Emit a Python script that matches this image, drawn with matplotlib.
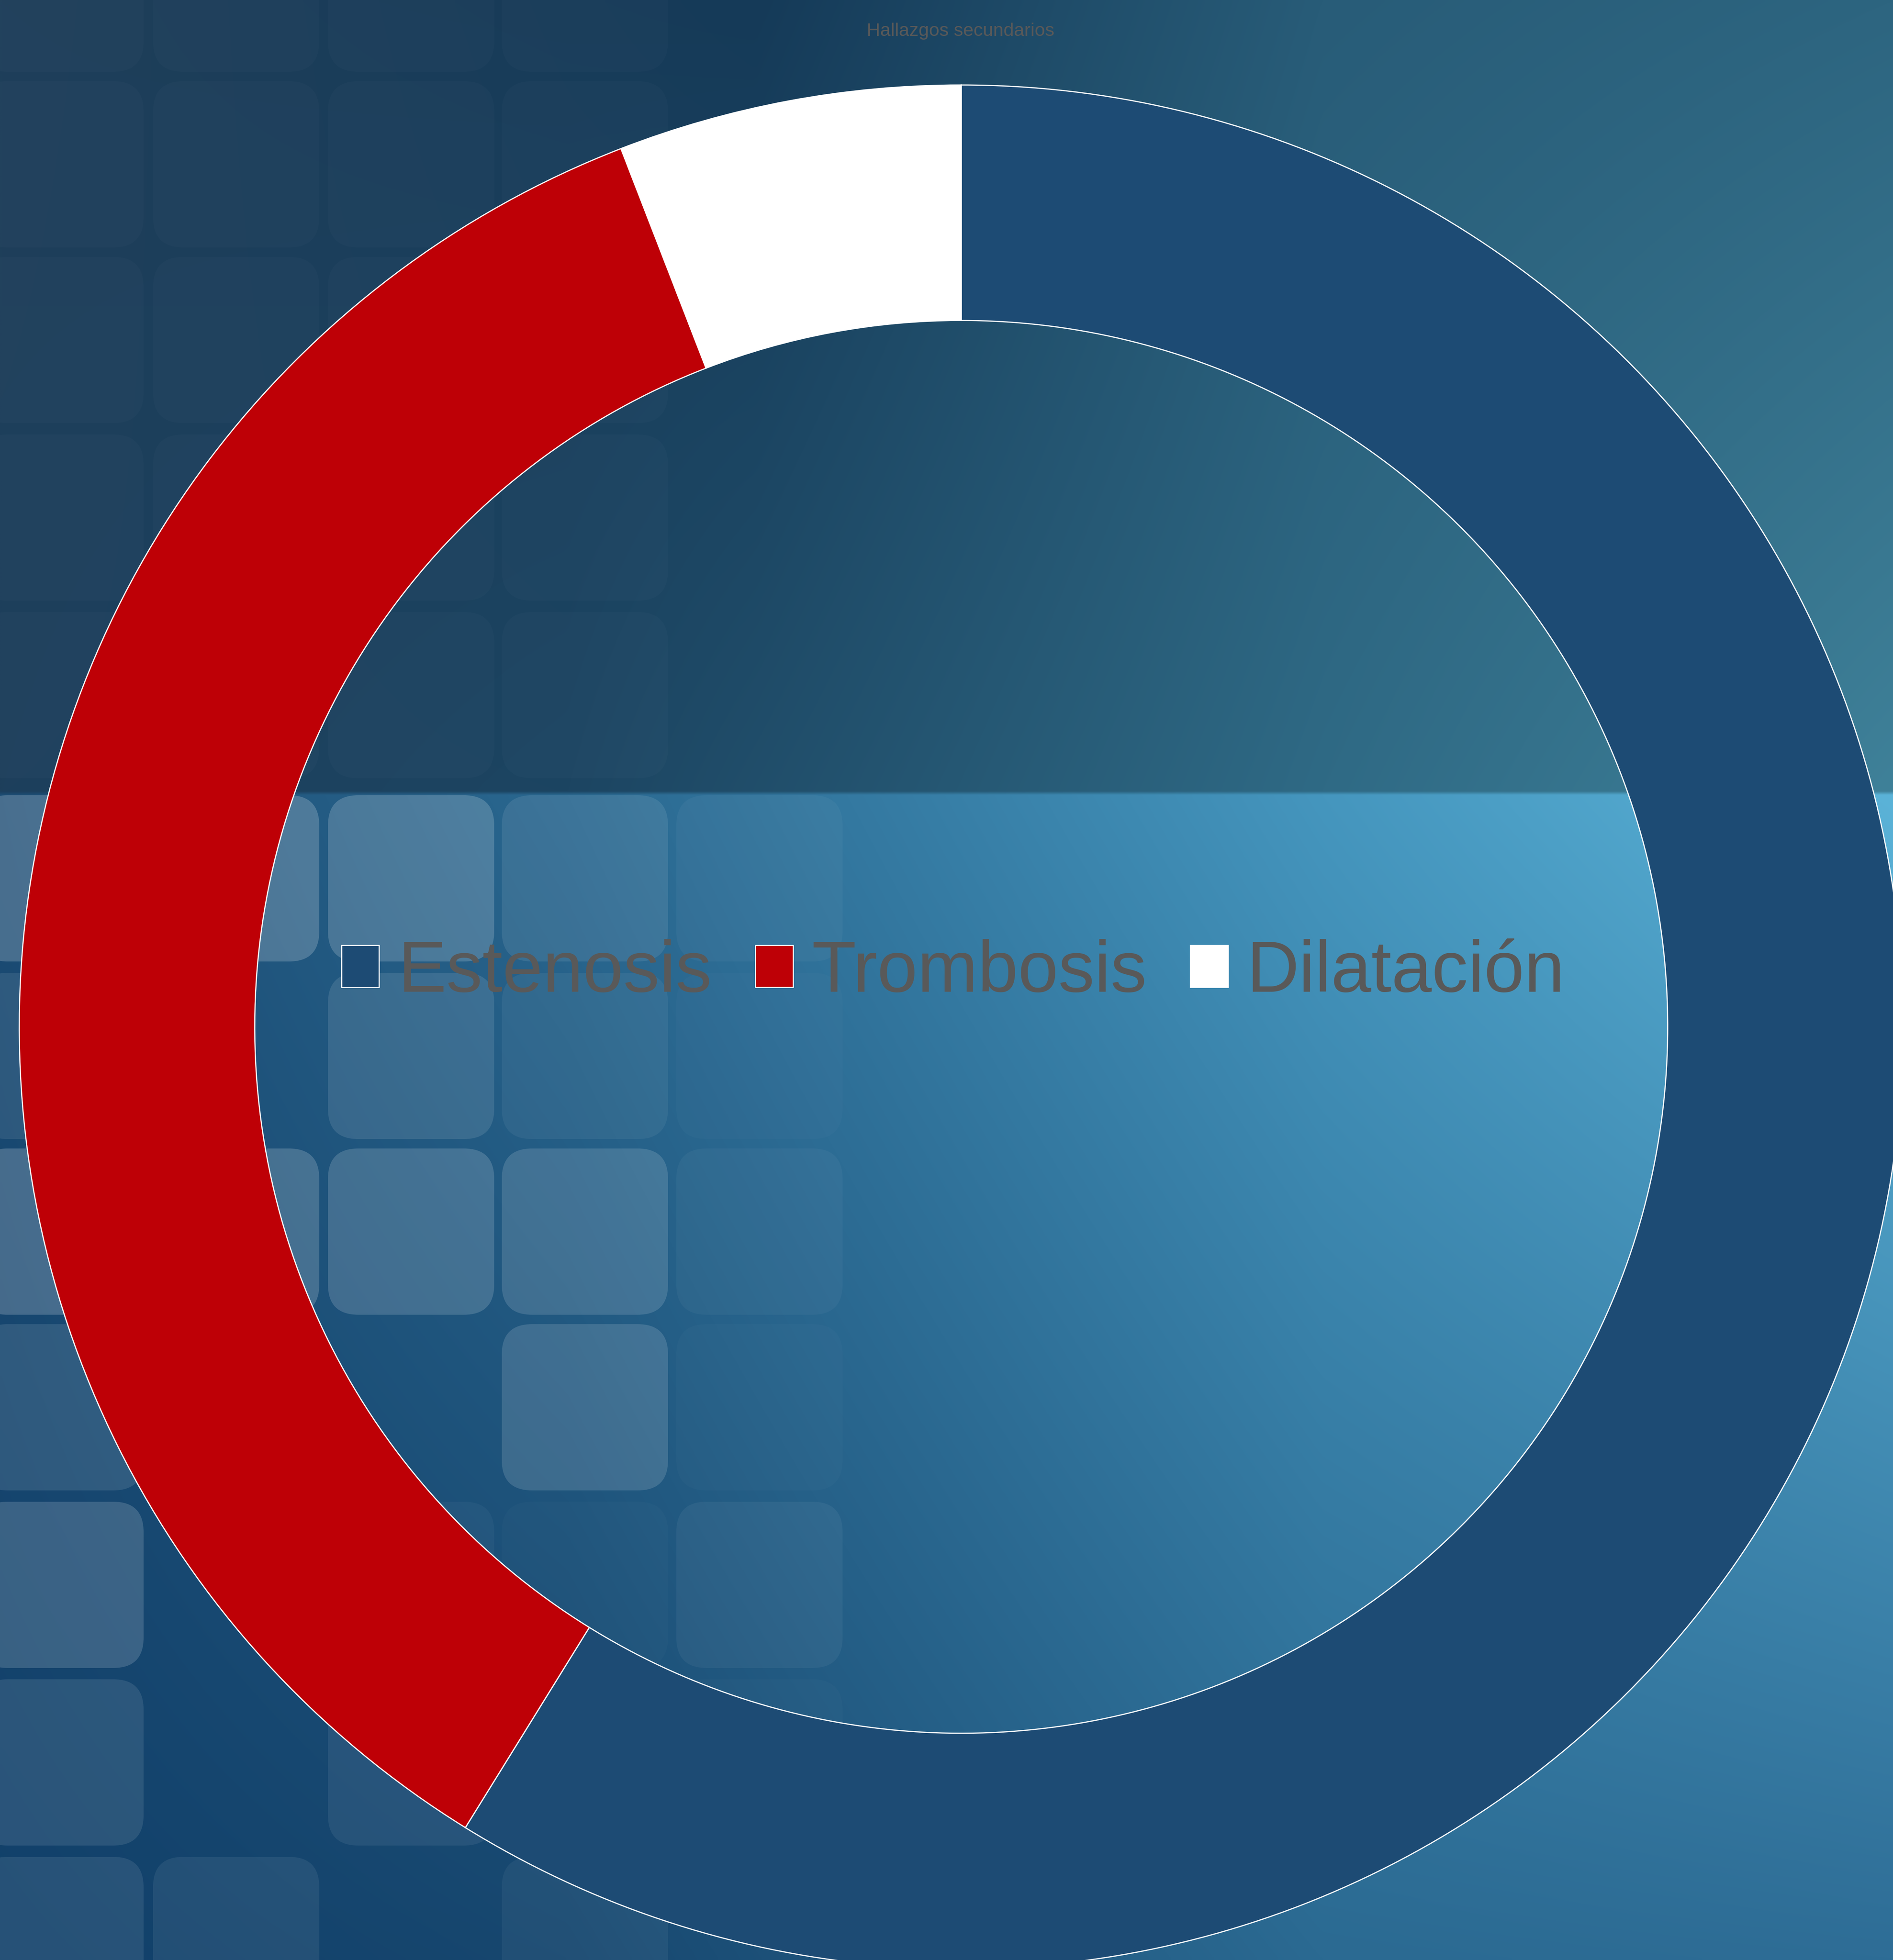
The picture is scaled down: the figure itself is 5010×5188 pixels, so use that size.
import matplotlib
matplotlib.use("Agg")
import matplotlib.pyplot as plt
import numpy as np
from matplotlib.colors import to_rgb
from matplotlib.patches import FancyBboxPatch

plt.rcParams['font.family'] = ['Liberation Sans', 'DejaVu Sans']

# data
title = 'Hallazgos secundarios'
labels = ['Estenosis', 'Trombosis', 'Dilatación']
counts = [10, 6, 1]
colors = ['#1D4B74', '#BE0006', '#FFFFFF']
text_color = '#595959'

W, H = 5010, 5188
fig = plt.figure(figsize=(W / 100, H / 100), dpi=100)


# ---- background picture (gradient + rounded tiles) ----
def row_colors(xs, stops):
    px = [s[0] for s in stops]
    cols = np.array([to_rgb(s[1]) for s in stops])
    return np.stack([np.interp(xs, px, cols[:, k]) for k in range(3)], axis=-1)


nx, ny = 501, 519
xs = np.linspace(0, W, nx)
ys = np.linspace(0, H, ny)
split = 2100

top_a = row_colors(xs, [(0, '#1f3f5a'), (2000, '#153a58'), (3500, '#285c78'), (W, '#2d6580')])
top_b = row_colors(xs, [(0, '#1d3f5c'), (1500, '#1c4562'), (3500, '#2f6a85'), (W, '#3f8199')])
bot_a = row_colors(xs, [(0, '#1c4c74'), (1500, '#2a6890'), (3500, '#4596be'), (W, '#5bb3d8')])
bot_b = row_colors(xs, [(0, '#11406a'), (1500, '#17476f'), (3500, '#2b6a92'), (W, '#2e6d96')])

img = np.zeros((ny, nx, 3))
for j, y in enumerate(ys):
    if y < split:
        t = y / split
        img[j] = top_a * (1 - t) + top_b * t
    else:
        t = (y - split) / (H - split)
        img[j] = bot_a * (1 - t) + bot_b * t

bg = fig.add_axes([0, 0, 1, 1], zorder=0)
bg.imshow(img, extent=(0, W, H, 0), aspect='auto', interpolation='bilinear')
bg.set_xlim(0, W)
bg.set_ylim(H, 0)
bg.axis('off')

col_x = [-60, 405, 868, 1328, 1790, 2255]
top_rows = [-250, 215, 680, 1150, 1620]
bot_rows = [2105, 2575, 3040, 3505, 3975, 4445, 4915]
bot_alpha = [
    [0.20, 0.20, 0.18, 0.09, 0.04, 0.00],
    [0.09, 0.00, 0.11, 0.06, 0.02, 0.00],
    [0.20, 0.18, 0.16, 0.14, 0.04, 0.00],
    [0.11, 0.00, 0.00, 0.14, 0.02, 0.00],
    [0.16, 0.00, 0.04, 0.02, 0.05, 0.00],
    [0.10, 0.00, 0.07, 0.00, 0.02, 0.00],
    [0.09, 0.07, 0.00, 0.05, 0.00, 0.00],
]
for r, y0 in enumerate(top_rows):
    for c, x0 in enumerate(col_x[:4]):
        bg.add_patch(FancyBboxPatch((x0 + 60, y0 + 60), 320, 320,
                                    boxstyle='round,pad=60,rounding_size=80',
                                    fc='white', ec='none', alpha=0.02))
for r, y0 in enumerate(bot_rows):
    for c, x0 in enumerate(col_x):
        a = bot_alpha[r][c]
        if a <= 0:
            continue
        bg.add_patch(FancyBboxPatch((x0 + 60, y0 + 60), 320, 320,
                                    boxstyle='round,pad=60,rounding_size=80',
                                    fc='white', ec='none', alpha=a))

# ---- doughnut ----
R = 2493
cx, cy = 2544, 2718
ax = fig.add_axes([(cx - R) / W, (H - cy - R) / H, 2 * R / W, 2 * R / H], zorder=1)
wedges, _ = ax.pie(counts, colors=colors, startangle=90, counterclock=False,
                   radius=1, wedgeprops=dict(width=0.25, edgecolor='white', linewidth=2.2))
for w in wedges:
    w.set_clip_on(False)
ax.set_xlim(-1, 1)
ax.set_ylim(-1, 1)
ax.set_facecolor('none')

leg = fig.legend(wedges, labels, loc='center', bbox_to_anchor=(0.5035, 0.5035),
                 ncol=3, frameon=False, fontsize=138,
                 handlelength=0.52, handleheight=0.52, handletextpad=0.26,
                 columnspacing=0.6, borderpad=0, borderaxespad=0)
for t in leg.get_texts():
    t.set_color(text_color)
leg.set_zorder(3)

fig.text(2542 / W, 1 - 95 / H, title, ha='center', va='baseline',
         fontsize=35.5, color=text_color, zorder=3)

fig.savefig('out.png', dpi=100)
